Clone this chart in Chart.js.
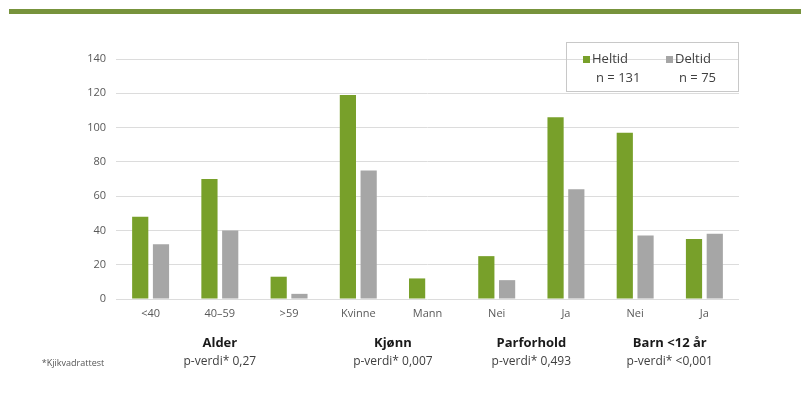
<!DOCTYPE html>
<html>
<head>
<meta charset="utf-8">
<script src="https://cdn.jsdelivr.net/npm/chart.js@4/dist/chart.umd.min.js"></script>
<style>
  html, body { margin: 0; padding: 0; background: #fff; }
  #wrap { width: 801px; height: 398px; }
</style>
</head>
<body>
<div id="wrap"><canvas id="barChart"></canvas></div>
<script>
// svarfordeling heltid/deltid
var categories = ["<40", "40\u201359", ">59", "Kvinne", "Mann", "Nei", "Ja", "Nei", "Ja"];
var heltid = [48, 70, 13, 119, 12, 25, 106, 97, 35];
var deltid = [32, 40, 3, 75, 0, 11, 64, 37, 38];
var seriesNames = ["Heltid", "Deltid"];
var seriesN = ["n = 131", "n = 75"];
var yTicks = [0, 20, 40, 60, 80, 100, 120, 140];

// grupper under aksen: navn, p-verdi, første og siste kategori
var groupNames = ["Alder", "Kjønn", "Parforhold", "Barn <12 år"];
var groupP = ["p-verdi* 0,27", "p-verdi* 0,007", "p-verdi* 0,493", "p-verdi* <0,001"];
var groupFrom = [0, 3, 5, 7];
var groupTo = [2, 4, 6, 8];
var footnote = "*Kjikvadrattest";

var green = '#78a02a';
var grey = '#a6a6a6';
var font = "'Open Sans', sans-serif";

var extras = {
  id: 'extras',
  afterDraw: function(chart) {
    var ctx = chart.ctx;
    var x = chart.scales.x;
    ctx.save();

    // grønn stripe øverst
    ctx.fillStyle = '#77933c';
    ctx.fillRect(9, 9, 792, 5);

    // gruppetekster
    ctx.textAlign = 'center';
    ctx.textBaseline = 'middle';
    for (var i = 0; i < groupNames.length; i++) {
      var cx = (x.getPixelForValue(groupFrom[i]) + x.getPixelForValue(groupTo[i])) / 2;
      ctx.fillStyle = '#1a1a1a';
      ctx.font = "bold 13px " + font;
      ctx.fillText(groupNames[i], cx, 343);
      ctx.fillStyle = '#404040';
      ctx.font = "12px " + font;
      ctx.fillText(groupP[i], cx, 362);
    }
    ctx.font = "9px " + font;
    ctx.fillStyle = '#555';
    ctx.fillText(footnote, 73, 363);

    // forklaring
    ctx.strokeStyle = '#c8c8c8';
    ctx.lineWidth = 1;
    ctx.strokeRect(566.5, 42.5, 172, 49);
    var cols = [583, 666];
    var colors = [green, grey];
    ctx.textAlign = 'left';
    for (var j = 0; j < seriesNames.length; j++) {
      ctx.fillStyle = colors[j];
      ctx.fillRect(cols[j], 56, 7, 7);
      ctx.fillStyle = '#404040';
      ctx.font = "13px " + font;
      ctx.fillText(seriesNames[j], cols[j] + 9, 59.5);
      ctx.fillText(seriesN[j], cols[j] + 13, 78.5);
    }
    ctx.restore();
  }
};

var ctxB = document.getElementById("barChart").getContext('2d');
var myBarChart = new Chart(ctxB, {
  type: 'bar',
  data: {
    labels: categories,
    datasets: [{
        label: seriesNames[0],
        data: heltid,
        backgroundColor: green
      },
      {
        label: seriesNames[1],
        data: deltid,
        backgroundColor: grey
      }
    ]
  },
  options: {
    responsive: true,
    maintainAspectRatio: false,
    animation: false,
    layout: { padding: { left: 0, right: 62, top: 59, bottom: 0 } },
    datasets: { bar: { categoryPercentage: 0.6, barPercentage: 0.78 } },
    plugins: { legend: { display: false }, tooltip: { enabled: false } },
    scales: {
      x: {
        grid: { display: false },
        border: { display: false },
        ticks: { color: '#595959', font: { family: font, size: 11 }, padding: 0, maxRotation: 0 },
        afterFit: function(scale) { scale.height = 99; }
      },
      y: {
        min: 0,
        max: 140,
        afterBuildTicks: function(scale) {
          scale.ticks = yTicks.map(function(v) { return { value: v }; });
        },
        grid: { color: '#dcdcdc', drawTicks: false },
        border: { display: false },
        ticks: { color: '#595959', font: { family: font, size: 11 }, padding: 10 },
        afterFit: function(scale) { scale.width = 116; }
      }
    }
  },
  plugins: [extras]
});
</script>
</body>
</html>
